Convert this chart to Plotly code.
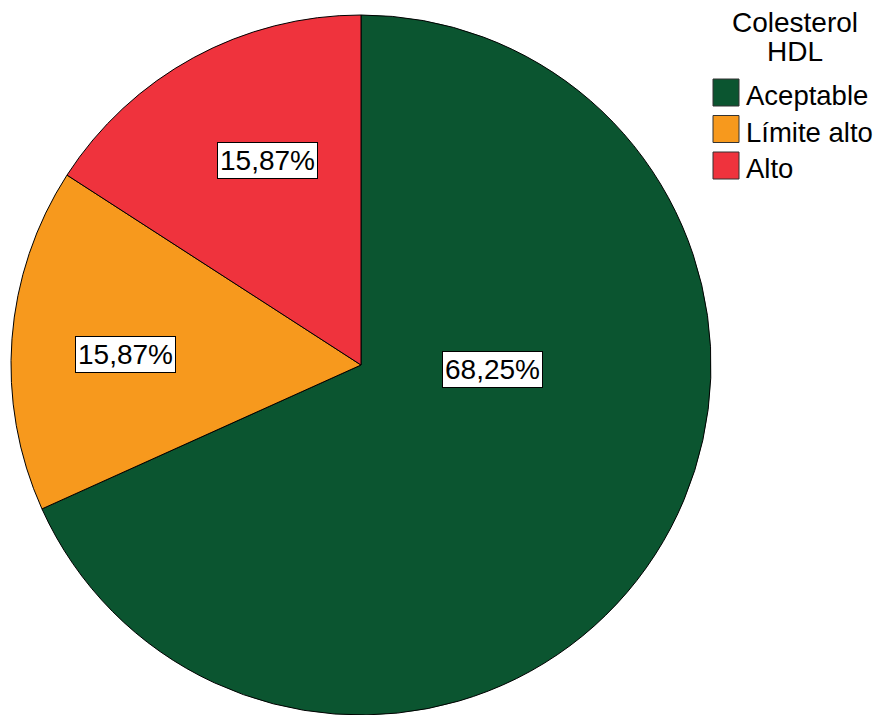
import plotly.graph_objects as go

# ---- data ----
categories = ["Aceptable", "Límite alto", "Alto"]
percentages = [68.25, 15.87, 15.87]
colors = ["#0B5530", "#F7991D", "#EF333D"]
legend_title_lines = ["Colesterol", "HDL"]

W, H = 879, 715
FONT = "Liberation Sans, Arial, sans-serif"

# label box anchors (pixel positions, style)
label_anchor_px = [(492, 369), (125, 355), (267, 161)]

fig = go.Figure()
fig.add_trace(go.Pie(
    labels=categories,
    values=percentages,
    sort=False,
    direction="clockwise",
    rotation=0,
    marker=dict(colors=colors, line=dict(color="#000000", width=1)),
    textinfo="none",
    hoverinfo="label+percent",
    showlegend=False,
    domain=dict(x=[11 / W, 711 / W], y=[0, 1 - 15 / H]),
))

annotations = []
for val, (px, py) in zip(percentages, label_anchor_px):
    txt = f"{val:.2f}".replace(".", ",") + "%"
    annotations.append(dict(
        x=px / W, y=1 - py / H, xref="paper", yref="paper",
        text=txt, showarrow=False,
        font=dict(family=FONT, size=28, color="#000000"),
        bgcolor="#FFFFFF", bordercolor="#000000", borderwidth=1, borderpad=2,
        xanchor="center", yanchor="middle",
    ))

# legend title (two lines)
for j, line in enumerate(legend_title_lines):
    annotations.append(dict(
        x=795 / W, y=1 - (23 + 28 * j) / H, xref="paper", yref="paper",
        text=line, showarrow=False,
        font=dict(family=FONT, size=28, color="#000000"),
        xanchor="center", yanchor="middle", align="center",
    ))

shapes = []
sw_x0, sw_w, sw_h, top0, pitch = 713, 26, 27, 79, 36.5
for i, (cat, col) in enumerate(zip(categories, colors)):
    y0 = top0 + i * pitch
    shapes.append(dict(
        type="rect", xref="paper", yref="paper",
        x0=sw_x0 / W, x1=(sw_x0 + sw_w) / W,
        y0=1 - (y0 + sw_h) / H, y1=1 - y0 / H,
        fillcolor=col, line=dict(color="#333333", width=1),
    ))
    annotations.append(dict(
        x=744 / W, y=1 - (y0 + sw_h / 2 + 3) / H, xref="paper", yref="paper",
        text=cat, showarrow=False,
        font=dict(family=FONT, size=27.5, color="#000000"),
        xanchor="left", yanchor="middle",
    ))

fig.update_layout(
    width=W, height=H,
    margin=dict(l=0, r=0, t=0, b=0),
    paper_bgcolor="#FFFFFF",
    plot_bgcolor="#FFFFFF",
    annotations=annotations,
    shapes=shapes,
)

fig.write_html("out.html")
